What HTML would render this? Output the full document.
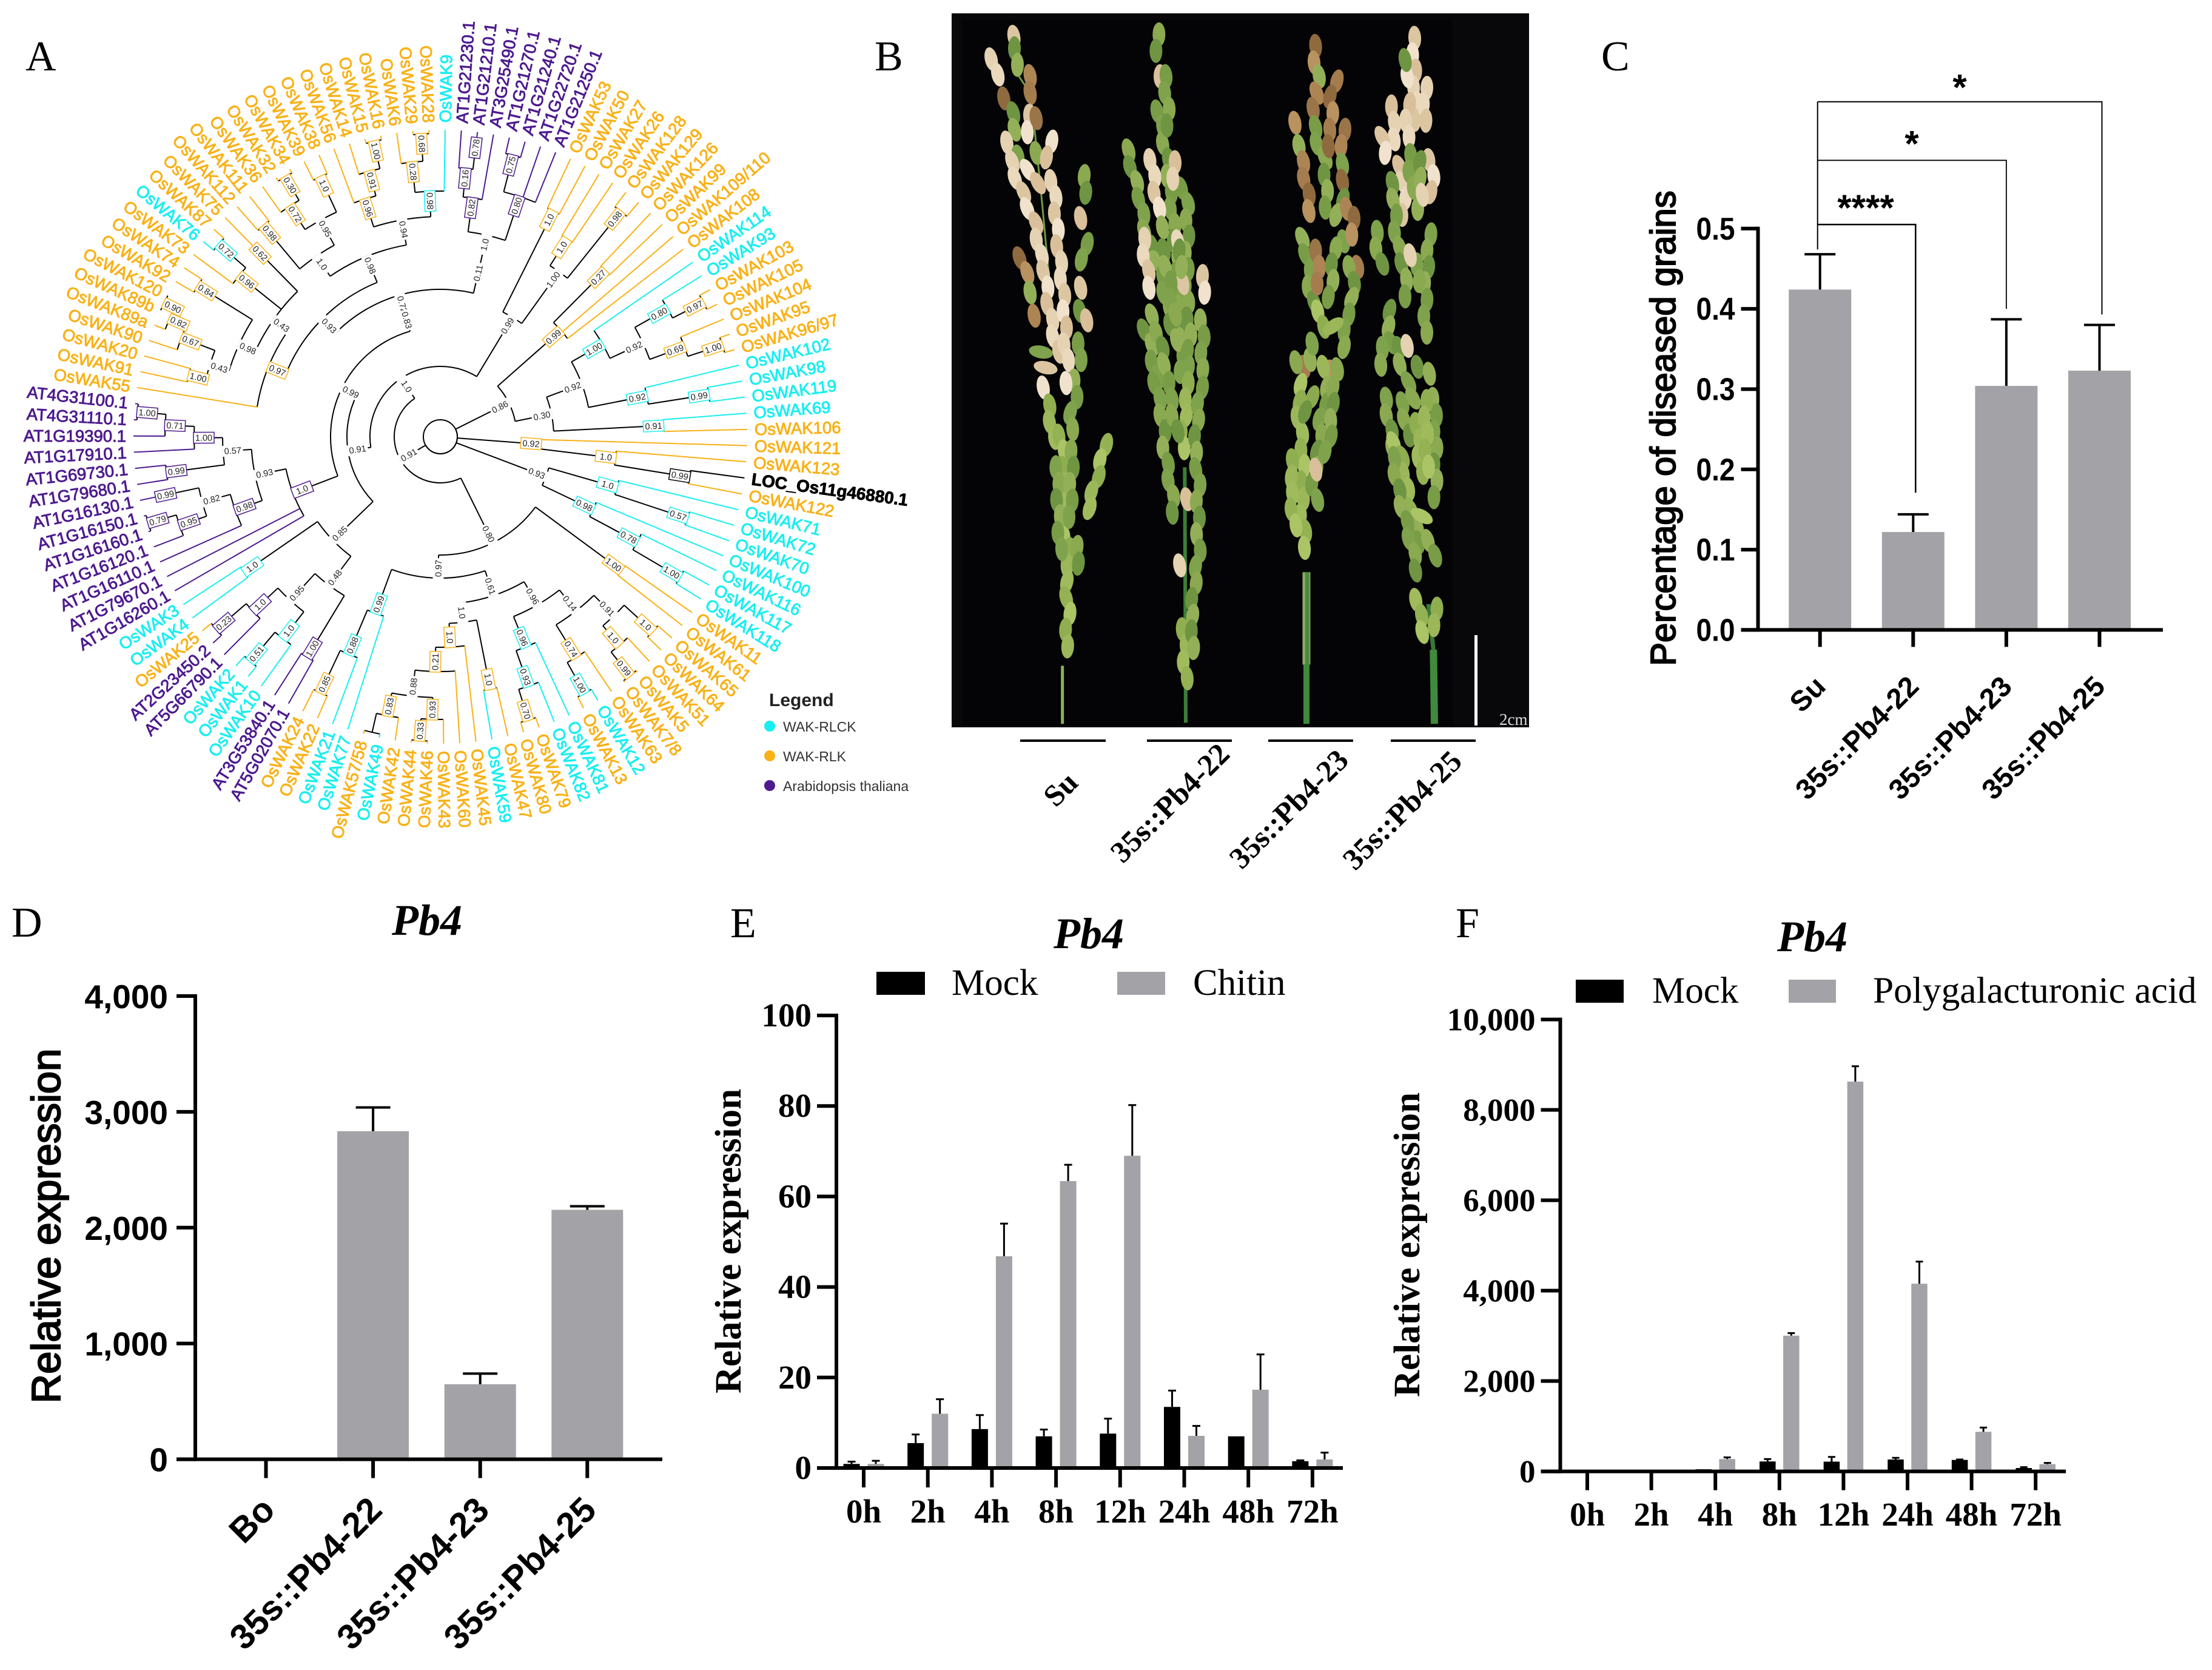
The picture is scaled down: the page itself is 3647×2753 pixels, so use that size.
<!DOCTYPE html>
<html lang="en">
<head>
<meta charset="utf-8">
<title>Pb4 figure</title>
<style>
html,body{margin:0;padding:0;background:#fff;}
svg{display:block;}
.serif{font-family:"Liberation Serif",serif;}
.sans{font-family:"Liberation Sans",sans-serif;}
</style>
</head>
<body>
<svg id="fig" xmlns="http://www.w3.org/2000/svg" width="3647" height="2753" viewBox="0 0 3647 2753">
<rect x="0" y="0" width="3647" height="2753" fill="#ffffff"/>
<g class="serif" font-size="70" fill="#000">
<text x="42" y="116">A</text>
<text x="1442" y="116">B</text>
<text x="2640" y="116">C</text>
<text x="19" y="1544">D</text>
<text x="1204" y="1545">E</text>
<text x="2400" y="1545">F</text>
</g>
<g id="tree"></g>
<g id="treeLegend" class="sans" transform="translate(-7 0)">
<text x="1275" y="1164" font-size="30" font-weight="bold" fill="#222">Legend</text>
<circle cx="1276" cy="1197" r="9" fill="#19eef0"/>
<text x="1298" y="1206" font-size="23" fill="#333">WAK-RLCK</text>
<circle cx="1276" cy="1246" r="9" fill="#f9b116"/>
<text x="1298" y="1255" font-size="23" fill="#333">WAK-RLK</text>
<circle cx="1276" cy="1295" r="9" fill="#4d1a8f"/>
<text x="1298" y="1304" font-size="23" fill="#333">Arabidopsis thaliana</text>
</g>
<g id="photo">
<rect x="1569" y="22" width="952" height="1177" fill="#08080b"/>
<rect x="1587" y="32" width="808" height="1164" fill="#040406"/>
</g>
<g>
<rect x="2431" y="1047" width="5" height="149" fill="#ffffff"/>
<text class="serif" x="2472" y="1195" font-size="27" fill="#ddd">2cm</text>
</g>
<g id="photoLabels" class="serif" font-weight="bold" font-size="50"></g>
<g id="panelC" class="sans"></g>
<g id="panelD" class="sans"></g>
<g id="panelE" class="serif"></g>
<g id="panelF" class="serif"></g>
</svg>
<script>
// ---------- chart data ----------
const cCategories = ['Su','35s::Pb4-22','35s::Pb4-23','35s::Pb4-25'];
const cMeans = [0.424,0.122,0.304,0.323];
const cErrors = [0.044,0.022,0.083,0.057];
const cTicks = [0,0.1,0.2,0.3,0.4,0.5];
const cTickLabels = ['0.0','0.1','0.2','0.3','0.4','0.5'];
const cBracketTargets = [1,2,3];
const cBracketTops = [0.505,0.585,0.658];
const cBracketEnds = [0.171,0.40,0.393];
const cBracketStars = ['****','*','*'];

const dCategories = ['Bo','35s::Pb4-22','35s::Pb4-23','35s::Pb4-25'];
const dMeans = [0,2833,648,2154];
const dErrors = [0,205,92,31];
const dTicks = [0,1000,2000,3000,4000];
const dTickLabels = ['0','1,000','2,000','3,000','4,000'];

const eCategories = ['0h','2h','4h','8h','12h','24h','48h','72h'];
const eMock = [0.9,5.5,8.6,7,7.6,13.5,7,1.5];
const eMockErr = [0.5,1.9,3.1,1.5,3.3,3.6,0,0.2];
const eChitin = [0.9,12,46.8,63.4,69,7.1,17.3,1.9];
const eChitinErr = [0.7,3.2,7.2,3.6,11.2,2.2,7.8,1.5];
const eTicks = [0,20,40,60,80,100];
const eTickLabels = ['0','20','40','60','80','100'];

const fCategories = ['0h','2h','4h','8h','12h','24h','48h','72h'];
const fMock = [0,0,47,220,216,263,254,75];
const fMockErr = [0,0,0,53,104,37,9,19];
const fPga = [0,0,273,3004,8625,4153,876,160];
const fPgaErr = [0,0,37,56,339,489,94,28];
const fTicks = [0,2000,4000,6000,8000,10000];
const fTickLabels = ['0','2,000','4,000','6,000','8,000','10,000'];

// ---------- helpers ----------
const NS = 'http://www.w3.org/2000/svg';
const GREY = '#a3a3a7';
function mk(tag, attrs, parent){
  const el = document.createElementNS(NS, tag);
  for (const k in attrs) el.setAttribute(k, attrs[k]);
  parent.appendChild(el);
  return el;
}
function slug(s){ return String(s).toLowerCase().replace(/[^a-z0-9]+/g,'-').replace(/^-|-$/g,''); }

function drawAxes(g, o, ticks, labels){
  const yAxis = mk('line',{x1:o.ax,x2:o.ax,y1:o.y(ticks[ticks.length-1])-3,y2:o.y0+3,stroke:'#000','stroke-width':6},g);
  
  
  const xAxis = mk('line',{x1:o.ax-o.tick,x2:o.xEnd,y1:o.y0,y2:o.y0,stroke:'#000','stroke-width':6},g);
  
  
  ticks.forEach((t,i)=>{
    const yy = o.y(t);
    const tl = mk('line',{x1:o.ax-o.tick,x2:o.ax,y1:yy,y2:yy,stroke:'#000','stroke-width':6},g);
    
    
    const attrs = {x:o.ax-o.tick-o.lblGap,y:yy+o.lblDy,'text-anchor':'end','font-size':o.tickFont,'font-weight':'bold',fill:'#000'};
    if (o.tickLen) { attrs.textLength = o.tickLen; attrs.lengthAdjust = 'spacingAndGlyphs'; }
    const tx = mk('text',attrs,g);
    tx.textContent = labels[i];
    
    
  });
}
function drawBar(g, x, w, yTop, y0, fill, name){
  const r = mk('rect',{x:x-w/2,y:Math.min(yTop,y0),width:w,height:Math.abs(y0-yTop),fill:fill},g);
  
  
}
function drawErr(g, x, yTop, yEnd, cap, sw, name){
  if (Math.abs(yTop-yEnd) < 0.01) return;
  const e = mk('path',{d:'M'+x+' '+yTop+'V'+yEnd+'M'+(x-cap/2)+' '+yEnd+'H'+(x+cap/2),stroke:'#000','stroke-width':sw,fill:'none'},g);
  
  
}
function rotY(g, text, x, y, size, weight, stroke, name){
  const t = mk('text',{x:x,y:y,'text-anchor':'middle','font-size':size,'font-weight':weight,fill:'#000',transform:'rotate(-90 '+x+' '+y+')'},g);
  if (stroke) { t.setAttribute('stroke','#000'); t.setAttribute('stroke-width',stroke); }
  t.textContent = text;
  
  
}
function drawSingle(g, o, cats, means, errs, ticks, labels){
  const y = v => o.y0 - v/o.max*o.h;
  const x = i => o.x0 + i*o.step;
  o.y = y;
  cats.forEach((c,i)=>{
    drawBar(g, x(i), o.bw, y(means[i]), o.y0, GREY, 'bar-' + slug(c));
    drawErr(g, x(i), y(means[i]), y(means[i]+errs[i]), o.cap, 4, 'error-bar-' + slug(c));
  });
  drawAxes(g, o, ticks, labels);
  cats.forEach((c,i)=>{
    const tk = mk('line',{x1:x(i),x2:x(i),y1:o.y0,y2:o.y0+o.tickDown,stroke:'#000','stroke-width':6},g);
    
    
    const px = x(i)+o.xlDx, py = o.y0+o.xlDy;
    const t = mk('text',{x:px,y:py,'text-anchor':'end','font-size':o.xFont,'font-weight':'bold',fill:'#000',transform:'rotate(-45 '+px+' '+py+')'},g);
    t.textContent = c;
    
    
  });
  return {x:x,y:y};
}
function drawGrouped(g, o, cats, a, aErr, b, bErr, ticks, labels){
  const y = v => o.y0 - v/o.max*o.h;
  const x = i => o.x0 + i*o.step;
  o.y = y;
  cats.forEach((c,i)=>{
    if (a[i] > 0) {
      drawBar(g, x(i)-o.off, o.bw, y(a[i]), o.y0, '#000', 'mock-bar-' + slug(c));
      drawErr(g, x(i)-o.off, y(a[i]), y(a[i]+aErr[i]), o.cap, 3, 'mock-error-' + slug(c));
    }
    if (b[i] > 0) {
      drawBar(g, x(i)+o.off, o.bw, y(b[i]), o.y0, GREY, 'treated-bar-' + slug(c));
      drawErr(g, x(i)+o.off, y(b[i]), y(b[i]+bErr[i]), o.cap, 3, 'treated-error-' + slug(c));
    }
  });
  drawAxes(g, o, ticks, labels);
  cats.forEach((c,i)=>{
    const tk = mk('line',{x1:x(i),x2:x(i),y1:o.y0,y2:o.y0+o.tickDown,stroke:'#000','stroke-width':6},g);
    
    
    const t = mk('text',{x:x(i),y:o.xBase,'text-anchor':'middle','font-size':o.xFont,'font-weight':'bold',fill:'#000'},g);
    t.textContent = c;
    
    
  });
}
function title(g, x, y){
  const t = mk('text',{x:x,y:y,'text-anchor':'middle','font-size':72,'font-weight':'bold','font-style':'italic',fill:'#000','font-family':'"Liberation Serif",serif'},g);
  t.textContent = 'Pb4';
  
  
}
function legendEntry(g, rx, ry, rw, rh, fill, tx, ty, label, fs){
  const r = mk('rect',{x:rx,y:ry,width:rw,height:rh,fill:fill},g);
  
  
  const t = mk('text',{x:tx,y:ty,'font-size':fs||61,fill:'#000'},g);
  t.textContent = label;
  
  
}

// ---------- panel C ----------
(function(){
  const g = document.getElementById('panelC');
  const o = {y0:1038.4,h:661.6,max:0.5,x0:3000.7,step:153.6,bw:103,cap:51,ax:2898.5,xEnd:3566,tick:28,tickDown:28,lblGap:10,lblDy:18,tickFont:52,tickLen:64,xFont:47,xlDx:12,xlDy:96};
  const s = drawSingle(g,o,cCategories,cMeans,cErrors,cTicks,cTickLabels);
  rotY(g,'Percentage of diseased grains',2762,706,58,'normal',2,'y-axis-title');
  const stemX = s.x(0)-4;
  const stem = mk('line',{x1:stemX,x2:stemX,y1:s.y(cBracketTops[2]),y2:s.y(0.474),stroke:'#000','stroke-width':2},g);
  
  
  const starX = [3076,3152,3231];
  const starGap = [7,7,3];
  cBracketTargets.forEach((tIdx,i)=>{
    const bx = s.x(tIdx)+(i===1?0:4);
    const b = mk('path',{d:'M'+stemX+' '+s.y(cBracketTops[i])+'H'+bx+'V'+s.y(cBracketEnds[i]),fill:'none',stroke:'#000','stroke-width':i===0?2.5:i===1?1.8:2},g);
    
    
    const t = mk('text',{x:starX[i],y:s.y(cBracketTops[i])-starGap[i],'text-anchor':'middle','font-size':60,'font-weight':'bold',fill:'#000'},g);
    t.textContent = cBracketStars[i];
    
    
  });
})();

// ---------- panel D ----------
(function(){
  const g = document.getElementById('panelD');
  const o = {y0:2405.6,h:763.6,max:4000,x0:438.5,step:176.6,bw:118,cap:57,ax:322,xEnd:1092,tick:31,tickDown:31,lblGap:14,lblDy:20,tickFont:55,xFont:58,xlDx:18,xlDy:87};
  drawSingle(g,o,dCategories,dMeans,dErrors,dTicks,dTickLabels);
  rotY(g,'Relative expression',99,2021,67,'normal',2.2,'y-axis-title');
  title(g,704,1541);
})();

// ---------- panel E ----------
(function(){
  const g = document.getElementById('panelE');
  const o = {y0:2420,h:746,max:100,x0:1424,step:105.7,bw:27,off:20,cap:13,ax:1379,xEnd:2214,tick:32,tickDown:32,lblGap:9,lblDy:18,tickFont:55,xFont:55,xBase:2510};
  drawGrouped(g,o,eCategories,eMock,eMockErr,eChitin,eChitinErr,eTicks,eTickLabels);
  rotY(g,'Relative expression',1221,2046,61,'bold',0,'y-axis-title');
  title(g,1795,1563);
  legendEntry(g,1445,1602,80,38,'#000',1569,1640,'Mock');
  legendEntry(g,1842,1602,79,38,GREY,1967,1640,'Chitin');
})();

// ---------- panel F ----------
(function(){
  const g = document.getElementById('panelF');
  const o = {y0:2425.6,h:745,max:10000,x0:2617,step:105.6,bw:26.5,off:19.5,cap:12,ax:2572.5,xEnd:3406,tick:32,tickDown:31,lblGap:9,lblDy:18,tickFont:53,xFont:55,xBase:2515};
  drawGrouped(g,o,fCategories,fMock,fMockErr,fPga,fPgaErr,fTicks,fTickLabels);
  rotY(g,'Relative expression',2340,2052,61,'bold',0,'y-axis-title');
  title(g,2988,1568);
  legendEntry(g,2598,1615,79,38,'#000',2724,1653,'Mock');
  legendEntry(g,2949,1615,78,38,GREY,3088,1653,'Polygalacturonic acid',61.4);
})();

// ---------- panel B labels ----------
const photoBars = [[1682,1823],[1891,2031],[2091,2231],[2293,2433]];
const photoNames = ['Su','35s::Pb4-22','35s::Pb4-23','35s::Pb4-25'];
const photoAnchors = [[1780,1293],[2030,1246],[2226,1256],[2413,1258]];
(function(){
  const g = document.getElementById('photoLabels');
  photoNames.forEach((n,i)=>{
    const l = mk('rect',{x:photoBars[i][0],y:1219,width:photoBars[i][1]-photoBars[i][0],height:4,fill:'#000'},g);
    
    
    const p = photoAnchors[i];
    const t = mk('text',{x:p[0],y:p[1],'text-anchor':'end',fill:'#000',transform:'rotate(-45 '+p[0]+' '+p[1]+')'},g);
    t.textContent = n;
    
    
  });
})();

// ---------- panel B panicles (illustration of the photograph) ----------
// strands: [frame, kind, points]; frames map sketch coordinates onto the photo region
const shades = {
  g:['#7fa24c','#8aa950','#6f9543','#93b058','#799c47'],
  p:['#a0bb5c','#94b253','#aac466','#8fae50','#9cb75a'],
  t:['#ead9bd','#dcc6a2','#f0e2cc','#d9bf9a','#e5d2b2'],
  b:['#a57c4e','#8f6a3f','#b8925f','#9a7548','#ad8555']
};
const panicleSets = [
 {name:'su',stems:[['lb','#86b454',5,[[515,1270],[515,1525]]],['lt','#6f9a44',3,[[300,250],[360,330],[415,800],[445,1080]]]],strands:[
  ['lt','t',[[275,80]]],['lt','g',[[285,130],[285,215]]],['lt','t',[[170,175],[195,270]]],['lt','b',[[225,345]]],['lt','g',[[265,410],[290,495]]],
  ['lt','b',[[348,250],[365,330]]],['lt','t',[[345,420],[350,510]]],['lt','b',[[385,430]]],['lt','t',[[240,535]]],['lt','g',[[295,595]]],['lt','g',[[385,580]]],
  ['lt','t',[[455,530],[440,620]]],['lt','t',[[260,620],[300,720],[340,800],[385,900],[400,1000],[430,1100],[440,1200],[470,1350],[500,1480]]],
  ['lt','t',[[350,650],[410,750]]],['lt','t',[[465,700],[480,800],[490,950],[510,1100],[525,1250],[530,1400],[545,1540]]],
  ['lt','g',[[630,680],[620,780]]],['lt','t',[[605,860]]],['lt','g',[[630,970],[610,1070]]],['lt','t',[[605,1160]]],['lt','g',[[600,1260]]],['lt','t',[[635,1300]]],['lt','g',[[600,1400],[600,1500]]],
  ['lt','b',[[310,1030],[335,1100]]],['lt','g',[[355,1180]]],['lt','b',[[375,1280]]],['lt','g',[[410,1430],[470,1440]]],['lt','t',[[430,1510],[480,1520]]],
  ['lb','t',[[420,50]]],['lb','p',[[445,130],[460,210],[470,280]]],
  ['lb','p',[[505,260],[520,350],[525,430],[530,520],[530,600],[525,680],[545,750],[545,840],[525,920],[550,1000],[540,1080],[535,1160],[530,1240]]],
  ['lb','g',[[490,400],[490,480],[495,570],[500,690],[505,780]]],['lb','g',[[565,330],[560,430],[555,580],[555,640]]],
  ['lb','p',[[725,300],[700,400],[665,510],[635,600]]],['lb','g',[[595,750],[578,890]]],['lb','g',[[580,20],[580,100],[555,180],[560,260]]],['lb','t',[[540,30],[545,100]]]
 ]},
 {name:'pb4-22',stems:[['lb','#3c7f36',6,[[1120,400],[1125,1520]]],['lt','#6f9a44',3,[[1040,700],[1105,1560]]]],strands:[
  ['lt','g',[[985,70],[985,180]]],['lt','t',[[990,250],[990,320]]],['lt','g',[[990,400],[1010,500],[1035,620],[1040,700],[1060,850],[1075,1000],[1090,1150],[1100,1300],[1105,1560]]],
  ['lt','g',[[835,570],[860,650],[885,730],[905,800],[915,880],[950,980],[990,1050],[1020,1180],[1050,1300],[1090,1450]]],
  ['lt','t',[[955,610],[970,720],[990,830]]],['lt','g',[[1010,900]]],['lt','t',[[915,950],[925,1050],[945,1130],[960,1210]]],['lt','g',[[950,1280],[970,1340]]],
  ['lt','g',[[1110,730],[1130,800],[1135,900],[1130,990],[1130,1070],[1130,1200],[1140,1300],[1145,1400],[1125,1540]]],
  ['lt','t',[[1215,1110],[1210,1200]]],['lt','g',[[1205,1300],[1210,1400],[1200,1540]]],['lt','g',[[925,1340],[955,1420],[965,1500],[985,1560]]],
  ['lt','g',[[985,1350],[1010,1440],[1040,1540]]],['lt','g',[[1020,250],[1035,380],[1040,470]]],['lt','t',[[1065,620],[1070,720]]],['lt','t',[[1085,960]]],['lt','t',[[1110,1140]]],
  ['lt','g',[[1010,1000],[1040,1100],[1060,1250],[1075,1320]]],['lt','g',[[1100,1000],[1095,1100]]],
  ['lb','g',[[975,30],[1000,140],[1015,230],[1020,330],[1040,430],[1060,540],[1070,640]]],['lb','p',[[1130,30],[1130,130],[1110,220],[1110,320]]],['lb','t',[[1130,540]]],
  ['lb','g',[[1200,50],[1180,200],[1170,350],[1190,450],[1185,550],[1185,680],[1190,780],[1170,900],[1160,1000],[1150,1060]]],['lb','g',[[1050,30],[1050,100],[1080,250]]],
  ['lb','p',[[1115,1110],[1120,1200],[1120,1270],[1125,1330]]],['lb','g',[[1160,1120],[1155,1220]]],['lb','t',[[1095,830]]]
 ]},
 {name:'pb4-23',stems:[['rb','#8fa868',13,[[222,860],[222,1265]]],['rb','#4a8a3e',7,[[226,860],[226,1265]]],['rb','#3f8a3c',10,[[222,1265],[222,1525]]]],strands:[
  ['rt','b',[[260,120],[270,220]]],['rt','g',[[285,250]]],['rt','b',[[280,320],[305,380]]],['rt','b',[[365,270],[345,340],[345,410]]],['rt','b',[[255,390]]],
  ['rt','g',[[260,470],[285,560],[315,620],[320,780],[325,870]]],['rt','b',[[330,480],[340,570]]],['rt','b',[[165,450]]],['rt','g',[[185,550]]],
  ['rt','b',[[200,620],[220,710],[235,800],[255,890]]],['rt','b',[[405,480],[400,560]]],['rt','g',[[400,630]]],['rt','b',[[400,700]]],['rt','g',[[395,780],[370,870]]],['rt','b',[[420,820]]],
  ['rt','g',[[405,960]]],['rt','b',[[450,860],[455,950]]],['rt','g',[[195,950],[230,1030],[235,1110],[240,1190],[270,1270]]],['rt','b',[[275,1000],[280,1100],[285,1190]]],
  ['rt','g',[[360,990],[345,1140],[335,1220]]],['rt','b',[[475,1070]]],['rt','g',[[440,1070],[460,1190],[425,1270],[415,1350],[395,1440]]],['rt','p',[[285,1260],[305,1350],[350,1320]]],
  ['rt','b',[[210,1500]]],['rt','g',[[170,1480]]],['rt','b',[[345,1520]]],['rt','g',[[240,1470]]],['rt','p',[[305,1500]]],['rt','g',[[250,1400]]],['rt','g',[[375,1510]]],
  ['rb','p',[[200,40],[175,130],[200,280],[205,380],[200,510],[200,620],[215,710],[225,810]]],['rb','p',[[145,370],[155,440],[145,510],[155,600],[165,670]]],
  ['rb','g',[[330,50],[290,200],[290,300],[270,370],[255,480],[275,570]]],['rb','g',[[360,50],[345,130],[350,200],[315,360]]],['rb','g',[[245,90],[215,180]]],['rb','t',[[268,410]]]
 ]},
 {name:'pb4-25',stems:[['rb','#3f8a3c',12,[[850,1200],[855,1525]]],['rb','#3a7a36',7,[[825,1000],[850,1200]]]],strands:[
  ['rt','t',[[750,85],[755,160],[755,230],[760,310],[765,460]]],['rt','t',[[720,250]]],['rt','t',[[650,380],[650,450],[670,560]]],['rt','t',[[590,515],[620,570],[615,640]]],
  ['rt','t',[[725,370],[720,430],[722,520]]],['rt','t',[[835,610],[850,720],[835,800]]],['rt','t',[[810,300],[805,460]]],['rt','g',[[710,180]]],
  ['rt','t',[[675,640],[710,720],[700,820],[705,900]]],['rt','g',[[640,710],[660,790],[660,880],[670,970],[700,1060],[715,1160],[720,1260]]],
  ['rt','g',[[565,920],[575,1010],[600,1090]]],['rt','g',[[780,820],[780,880]]],['rt','g',[[730,590],[740,700],[750,800]]],['rt','g',[[790,620],[770,720]]],['rt','t',[[795,760]]],
  ['rt','g',[[830,930],[825,1010],[815,1110],[810,1230],[810,1330],[810,1420]]],['rt','g',[[640,1260],[620,1330],[650,1400]]],['rt','g',[[590,1420],[600,1520]]],['rt','g',[[670,1420],[700,1520]]],
  ['rt','t',[[720,1410]]],['rt','g',[[775,1060],[770,1200]]],['rt','g',[[770,1500]]],['rt','g',[[830,1530]]],['rt','t',[[735,1020]]],
  ['rb','g',[[610,100],[630,200],[650,300],[675,400],[700,500],[730,600],[770,680],[790,760]]],['rb','g',[[690,120],[720,220],[730,310]]],['rb','p',[[770,210],[780,340],[790,430]]],
  ['rb','p',[[660,290],[700,380],[730,560],[770,610],[810,630]]],['rb','g',[[855,100],[860,230],[860,330],[860,430],[860,570]]],['rb','g',[[650,360],[680,520],[720,660],[750,770],[780,900]]],
  ['rb','p',[[810,110],[815,300],[820,440]]],['rb','g',[[830,720],[855,800]]],['rb','p',[[770,980],[790,1080],[810,1150]]],['rb','p',[[860,1020],[860,1100]]],['rb','g',[[720,30],[770,120]]]
 ]}
];
(function(){
  const frames = {lt:[1580,30,2.61],lb:[1580,620,2.66],rt:[2080,30,2.61],rb:[2080,620,2.66]};
  const toPx = (f,p)=>[frames[f][0]+p[0]/3, frames[f][1]+p[1]/frames[f][2]];
  const g = document.getElementById('photo');
  panicleSets.forEach(pan=>{
    const pg = mk('g',{},g);
    
    
    pan.stems.forEach(s=>{
      const st = mk('polyline',{points:s[3].map(p=>toPx(s[0],p).join(',')).join(' '),fill:'none',stroke:s[1],'stroke-width':s[2]},pg);
      
      
    });
    let c = 0;
    pan.strands.forEach(st=>{
      const pts = st[2].map(p=>toPx(st[0],p));
      const pal = shades[st[1]];
      const place = (x,y,ang)=>{
        c++;
        const e = mk('ellipse',{cx:x,cy:y,rx:20,ry:10.5,fill:pal[c%5],transform:'rotate('+ang+' '+x+' '+y+')'},pg);
        
        
      };
      if (pts.length===1){ place(pts[0][0],pts[0][1],80); return; }
      let carry = 0;
      for (let s=0;s<pts.length-1;s++){
        const a=pts[s], b=pts[s+1];
        const len=Math.hypot(b[0]-a[0],b[1]-a[1]);
        const ux=(b[0]-a[0])/len, uy=(b[1]-a[1])/len;
        const ang=Math.atan2(uy,ux)*180/Math.PI;
        let d=carry;
        while (d<=len){
          const side=c%2?1:-1;
          place(a[0]+ux*d-uy*side*2.5, a[1]+uy*d+ux*side*2.5, ang);
          d+=27;
        }
        carry=d-len;
      }
    });
  });
})();

// ---------- panel A tree ----------
const leafSegments = [
 ['o','OsWAK126 OsWAK99 OsWAK109/110 OsWAK108'],['c','OsWAK114 OsWAK93'],
 ['o','OsWAK103 OsWAK105 OsWAK104 OsWAK95 OsWAK96/97'],['c','OsWAK102 OsWAK98 OsWAK119 OsWAK69'],['o','OsWAK106'],
 ['o','OsWAK121 OsWAK123'],['k','LOC_Os11g46880.1'],['o','OsWAK122'],
 ['c','OsWAK71 OsWAK72 OsWAK70 OsWAK100 OsWAK116 OsWAK117 OsWAK118'],
 ['o','OsWAK11 OsWAK61 OsWAK65 OsWAK64 OsWAK51 OsWAK5 OsWAK7/8 OsWAK63'],['c','OsWAK12'],['o','OsWAK13'],['c','OsWAK81 OsWAK82'],
 ['o','OsWAK79 OsWAK80 OsWAK47'],['c','OsWAK59'],['o','OsWAK45 OsWAK60 OsWAK43 OsWAK46 OsWAK44 OsWAK42'],['c','OsWAK49'],['o','OsWAK57/58'],
 ['c','OsWAK77 OsWAK21'],['o','OsWAK22 OsWAK24'],['p','AT5G02070.1 AT3G53840.1'],['c','OsWAK10 OsWAK1 OsWAK2'],['p','AT5G66790.1 AT2G23450.2'],['o','OsWAK25'],['c','OsWAK4 OsWAK3'],
 ['p','AT1G16260.1 AT1G79670.1 AT1G16110.1 AT1G16120.1 AT1G16160.1 AT1G16150.1 AT1G16130.1 AT1G79680.1 AT1G69730.1 AT1G17910.1 AT1G19390.1 AT4G31110.1 AT4G31100.1'],
 ['o','OsWAK55 OsWAK91 OsWAK20 OsWAK90 OsWAK89a OsWAK89b OsWAK120 OsWAK92 OsWAK74 OsWAK73'],['c','OsWAK76'],
 ['o','OsWAK87 OsWAK75 OsWAK112 OsWAK111 OsWAK36 OsWAK32 OsWAK34 OsWAK39 OsWAK38 OsWAK56 OsWAK14 OsWAK15 OsWAK16 OsWAK6 OsWAK29 OsWAK28'],['c','OsWAK9'],
 ['p','AT1G21230.1 AT1G21210.1 AT3G25490.1 AT1G21270.1 AT1G21240.1 AT1G22720.1 AT1G21250.1'],
 ['o','OsWAK53 OsWAK50 OsWAK27 OsWAK26 OsWAK128 OsWAK129']
];
function n(r,lab,...kids){ return {r:r,lab:lab,kids:kids}; }
const treeRoot = n(28,'',
  n(110,'0.86',
    n(249,'0.99',n(370,'0.27',0,0),0,0),
    n(171,'0.30',
      n(233,'0.92',
        n(292,'1.00',0,n(352,'0.92',n(414,'0.80',0,n(471,'0.97',0,0)),n(413,'0.69',0,n(473,'1.00',0,0)))),
        n(331,'0.92',0,n(432,'0.99',0,0))),
      n(352,'0.91',0,0))),
  n(150,'0.92',0,n(275,'1.0',0,n(400,'0.99',0,0))),
  n(170,'0.93',n(287,'1.0',0,n(413,'0.57',0,0)),n(263,'0.98',0,n(352,'0.78',0,n(442,'1.00',0,0)))),
  n(60,'0.91',
    n(179,'0.80',n(355,'1.00',0,0),
      n(217,'0.97',
        n(260,'0.61',
          n(304,'0.96',
            n(348,'0.14',n(395,'0.91',n(459,'1.0',0,0),n(437,'1.0',0,n(487,'0.99',0,0))),n(411,'0.74',0,n(469,'1.00',0,0))),
            n(358,'0.96',0,n(420,'0.93',0,n(473,'0.70',0,0)))),
          n(292,'1.0',n(408,'1.0',0,0),n(331,'1.0',0,n(371,'0.21',0,n(414,'0.88',n(450,'0.93',0,n(486,'0.33',0,0)),n(452,'0.83',0,n(484,'',0,0))))))),
        n(294,'0.99',0,n(373,'0.88',0,n(450,'0.85',0,0))))),
    n(100,'1.0',
      n(138,'0.91',
        n(230,'0.85',
          n(290,'0.48',n(408,'1.00',0,0),n(350,'0.95',n(406,'1.0',0,n(469,'0.51',0,0)),n(406,'1.0',0,n(471,'0.23',0,0)))),
          n(377,'1.0',0,0)),
        n(165,'0.99',
          n(244,'1.0',0,0,
            n(296,'0.93',
              n(343,'0.98',0,n(391,'0.82',n(438,'0.95',0,n(486,'0.79',0,0)),n(463,'0.99',0))),
              n(343,'0.57',n(439,'0.99',0,0),n(390,'1.00',0,n(438,'0.71',0,n(485,'1.00',0,0)))))),
          n(200,'0.83',
            n(227,'0.72',
              n(259,'0.93',
                n(290,'0.97',0,n(320,'0.43',
                  n(349,'0.98',n(382,'0.43',n(411,'1.00',0,0),n(441,'0.67',0,n(471,'0.82',0,n(490,'0.90',0,0)))),n(455,'0.84',0,0)),
                  n(409,'0.96',0,n(468,'0.72',0,0)),
                  n(424,'0.62',0))),
                n(305,'0.98',
                  n(345,'1.0',n(438,'0.98',0,0),n(392,'0.95',n(438,'0.72',0,n(483,'0.30',0,0)),n(456,'1.0',0,0))),
                  n(347,'0.94',n(395,'0.96',0,n(437,'0.91',0,n(483,'1.00',0,0))),n(389,'0.98',n(439,'0.28',0,n(484,'0.68',0,0)),0)))),
              n(277,'0.11',n(325,'1.0',n(381,'0.82',n(428,'0.16',0,n(480,'0.78',0)),0),n(401,'0.80',n(463,'0.75',0,0),0,0))))
          ))),
      n(214,'0.99',n(400,'1.0',0,0),n(319,'1.00',n(371,'1.0',0,0),n(460,'0.98',0,0)))))
);
(function(){
  const g = document.getElementById('tree');
  const CX=726, CY=720, LEAF_R=506, LABEL_R=518, STEP=360/119, START=0.9+14*STEP;
  const colors = {o:'#f9b116',c:'#19eef0',p:'#4d1a8f',k:'#000000'};
  const leaves = [];
  leafSegments.forEach(s=>s[1].split(' ').forEach(name=>leaves.push({name:name,col:colors[s[0]],key:s[0]})));
  const pt = (r,a)=>{const t=a*Math.PI/180;return [CX+r*Math.sin(t),CY-r*Math.cos(t)];};
  const lines = mk('g',{fill:'none','stroke-width':2,stroke:'#000'},g);
  
  
  const boxes = mk('g',{'font-family':'"Liberation Sans",sans-serif'},g);
  
  
  const labels = mk('g',{'font-family':'"Liberation Sans",sans-serif'},g);
  
  
  const ring = mk('circle',{cx:CX,cy:CY,r:28},lines);
  
  
  let idx=0;
  function radial(a,r1,r2,col){
    const p=pt(r1,a), q=pt(r2,a);
    const l=mk('line',{x1:p[0],y1:p[1],x2:q[0],y2:q[1],stroke:col},lines);
    
    
  }
  function layout(node){
    if (node===0){ const i=idx++; return {leaf:leaves[i],a:START+i*STEP}; }
    const kids=node.kids.map(layout);
    return {node:node,kids:kids,a:(kids[0].a+kids[kids.length-1].a)/2,rr:node.lab===''&&node.r===28?28:node.r+16};
  }
  function draw(o){
    const a1=o.kids[0].a, a2=o.kids[o.kids.length-1].a;
    if (a2-a1>0.01){
      const p=pt(o.rr,a1), q=pt(o.rr,a2);
      const arc=mk('path',{d:'M'+p[0]+' '+p[1]+'A'+o.rr+' '+o.rr+' 0 '+(a2-a1>180?1:0)+' 1 '+q[0]+' '+q[1]},lines);
      
      
    }
    o.kids.forEach(k=>{
      if (k.leaf){ radial(k.a,o.rr,LEAF_R,k.leaf.col); drawLeaf(k); }
      else { radial(k.a,o.rr,k.rr,'#000'); draw(k); drawBox(k,o); }
    });
  }
  function drawLeaf(k){
    const a=((k.a%360)+360)%360;
    const p=pt(LABEL_R,a);
    const right=a<180;
    const rot=right?a-90:a+90;
    const t=mk('text',{x:p[0],y:p[1],dy:'.35em','text-anchor':right?'start':'end','font-size':k.leaf.key==='k'?28:27.5,
      fill:k.leaf.col,stroke:k.leaf.col,'stroke-width':0.9,'font-weight':k.leaf.key==='k'?'bold':'normal',
      transform:'rotate('+rot+' '+p[0]+' '+p[1]+')'},labels);
    t.textContent=k.leaf.name;
    
    
  }
  function drawBox(k){
    if (!k.node.lab) return;
    const a=((k.a%360)+360)%360;
    const p=pt(k.node.r,a);
    const right=a<180;
    const rot=right?a-90:a+90;
    const leafKid=k.kids.find(x=>x.leaf);
    const col=leafKid?leafKid.leaf.col:'none';
    const r=mk('rect',{x:p[0]-17,y:p[1]-9,width:34,height:18,fill:'#fff',stroke:col,'stroke-width':1.5,transform:'rotate('+rot+' '+p[0]+' '+p[1]+')'},boxes);
    
    
    const t=mk('text',{x:p[0],y:p[1],dy:'.35em','text-anchor':'middle','font-size':14.5,fill:'#222',transform:'rotate('+rot+' '+p[0]+' '+p[1]+')'},boxes);
    t.textContent=k.node.lab;
    
    
  }
  draw(layout(treeRoot));
})();
</script>
</body>
</html>
